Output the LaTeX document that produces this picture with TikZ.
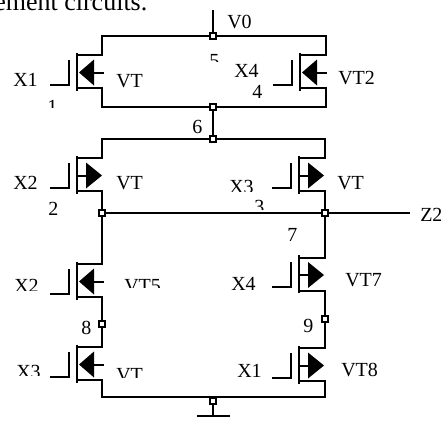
\documentclass[tikz,border=0pt]{standalone}
\usepackage{fontspec}
\setmainfont{Liberation Serif}
\usetikzlibrary{positioning}
\tikzset{
  wire/.style={line width=1.5pt,line join=miter},
  bar/.style={line width=1.8pt},
  lbl/.style={anchor=base west,inner sep=0pt,font=\fontsize{15}{15}\selectfont},
  headline/.style={anchor=base west,inner sep=0pt,font=\fontsize{19.5}{20}\selectfont},
  junction/.style={draw,fill=white,rectangle,line width=1.1pt,inner sep=0pt,minimum size=4.6pt},
  mask/.style={fill=white}
}
% channel, gate and source/drain ends of one transistor
\newcommand{\vtbody}[3]{
  \coordinate (#1s) at (#2,#3-16.5);
  \coordinate (#1d) at (#2,#3+16.5);
  \coordinate (#1g) at (#2-27,#3+13);
  \coordinate (#1c) at (#2-8.5,#3+13);
  \draw[bar] (#2,#3-19) -- (#2,#3+19);
  \draw[wire] (#1g) -- (#1c) -- ++(0,-25);
}
\newcommand{\vtleft}[3]{
  \vtbody{#1}{#2}{#3}
  \fill (#2+2,#3+1) -- (#2+17,#3-12) -- (#2+17,#3+14) -- cycle;
  \draw[wire] (#2+15,#3+1) -- (#2+27,#3+1);
}
\newcommand{\vtright}[3]{
  \vtbody{#1}{#2}{#3}
  \fill (#2+25,#3+1) -- (#2+9,#3-12) -- (#2+9,#3+14) -- cycle;
  \draw[wire] (#2,#3+1) -- (#2+10,#3+1);
}
\begin{document}
\begin{tikzpicture}[x=0.75pt,y=-0.75pt]
  \useasboundingbox (0,0) rectangle (441,421);
  % texts first, the cut ones get a patch
  \node[headline] (head) at (-6,10) {ement circuits.};
  \node[lbl] (tv0) at (227,28) {V0};
  \node[lbl] (tx1) at (13,86) {X1};
  \node[lbl] (tvt1) at (116,87) {VT};
  \node[lbl] (tn5) at (209,67) {5};
  \node[lbl] (tn1) at (47,113) {1};
  \node[lbl] (tx4) at (234,77) {X4};
  \node[lbl] (tn4) at (252,98) {4};
  \node[lbl] (tvt2) at (338,84) {VT2};
  \node[lbl] (tn6) at (192,133) {6};
  \node[lbl] (tx2) at (13,189) {X2};
  \node[lbl] (tvt3) at (116,189) {VT};
  \node[lbl] (tn2) at (48,215) {2};
  \node[lbl] (tx3) at (229,193) {X3};
  \node[lbl] (tvt4) at (337,189) {VT};
  \node[lbl] (tn3) at (254,213) {3};
  \node[lbl] (tz2) at (420,221) {Z2};
  \node[lbl] (tn7) at (287,241) {7};
  \node[lbl] (tx2b) at (14,292) {X2};
  \node[lbl] (tvt5) at (124,292) {VT5};
  \node[lbl] (tx4b) at (231,290) {X4};
  \node[lbl] (tvt7) at (345,286) {VT7};
  \node[lbl] (tn8) at (81,334) {8};
  \node[lbl] (tn9) at (303,332) {9};
  \node[lbl] (tx3b) at (16,378) {X3};
  \node[lbl] (tvt6) at (116,381) {VT};
  \node[lbl] (tx1b) at (237,377) {X1};
  \node[lbl] (tvt8) at (341,376) {VT8};
  \fill[mask] (205,62) rectangle (222,72);
  \fill[mask] (42,108) rectangle (60,118);
  \fill[mask] (225,192) rectangle (258,198);
  \fill[mask] (250,210) rectangle (268,218);
  \fill[mask] (10,291) rectangle (42,297);
  \fill[mask] (120,288) rectangle (165,297);
  \fill[mask] (12,376) rectangle (42,383);
  \fill[mask] (112,378) rectangle (148,386);
  % transistors
  \vtleft{a}{77}{71.5}
  \vtleft{b}{300}{71.5}
  \vtright{c}{77}{174.5}
  \vtright{d}{299}{174.5}
  \vtleft{e}{77}{280.5}
  \vtleft{f}{77}{363.5}
  \vtright{g}{299}{274}
  \vtright{h}{299}{364.5}
  % junctions
  \node[junction] (j5) at (213,36) {};
  \node[junction] (j6a) at (213,107) {};
  \node[junction] (j6b) at (213,139) {};
  \node[junction] (j2) at (102,213) {};
  \node[junction] (j7) at (325,213) {};
  \node[junction] (j8) at (102,324) {};
  \node[junction] (j9) at (325,319) {};
  \node[junction] (jgnd) at (213,401) {};
  \coordinate (vtop) at (213,10);
  \coordinate (zend) at (410,213);
  \coordinate (gnd) at (213,416);
  \coordinate (gndl) at (197,416);
  \coordinate (gndr) at (230,416);
  % wiring
  \draw[wire] (vtop) -- (j5);
  \draw[wire] (as) -- ++(25,0) |- (j5);
  \draw[wire] (ad) -- ++(25,0) |- (j6a);
  \draw[wire] (bs) -- ++(26,0) |- (j5);
  \draw[wire] (bd) -- ++(26,0) |- (j6a);
  \draw[wire] (j6a) -- (j6b);
  \draw[wire] (cs) -- ++(25,0) |- (j6b);
  \draw[wire] (ds) -- ++(26,0) |- (j6b);
  \draw[wire] (cd) -- ++(25,0) -- (j2);
  \draw[wire] (dd) -- ++(26,0) -- (j7);
  \draw[wire] (j2) -- (j7);
  \draw[wire] (j7) -- (zend);
  \draw[wire] (es) -- ++(25,0) -- (j2);
  \draw[wire] (ed) -- ++(25,0) -- (j8);
  \draw[wire] (fs) -- ++(25,0) -- (j8);
  \draw[wire] (fd) -- ++(25,0) |- (jgnd.north);
  \draw[wire] (gs) -- ++(26,0) -- (j7);
  \draw[wire] (gd) -- ++(26,0) -- (j9);
  \draw[wire] (hs) -- ++(26,0) -- (j9);
  \draw[wire] (hd) -- ++(26,0) |- (jgnd.north);
  \draw[wire] (jgnd) -- (gnd);
  \draw[wire] (gndl) -- (gndr);
\end{tikzpicture}
\end{document}
